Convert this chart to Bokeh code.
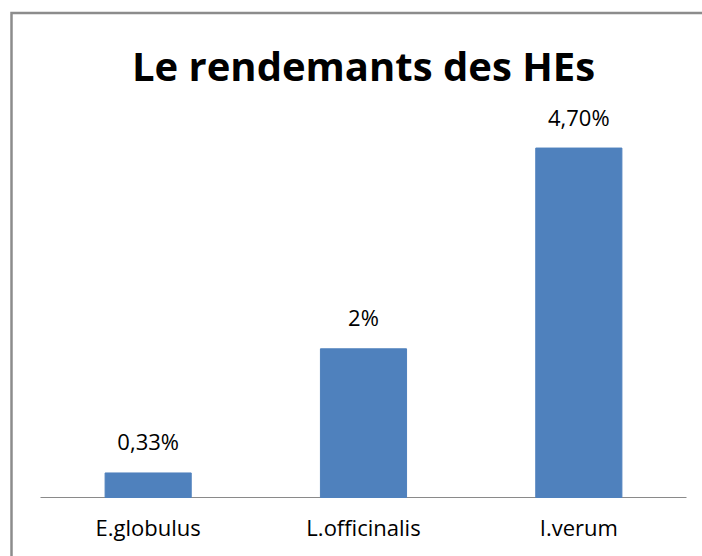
from bokeh.plotting import figure
from bokeh.models import Range1d, ColumnDataSource
from bokeh.core.properties import value
from bokeh.embed import file_html
from bokeh.resources import INLINE

# ---- data ----
categories = ["E.globulus", "L.officinalis", "I.verum"]
values = [0.33, 2.0, 4.7]
value_labels = ["0,33%", "2%", "4,70%"]
title_text = "Le rendemants des HEs"

# ---- layout (pixels in picture space) ----
W, H = 702, 556
PAGE_X0, PAGE_Y0 = 0, 0
CAT_LEFT_PX = 40.0          # left end of category axis
CAT_W_PX = 215.33           # width of one category slot
BASE_PX = 497.0             # baseline (value 0)
UNIT_PX = 74.35             # pixels per 1 %
TEXT_SHIFT = -12            # correction for rendered text baseline

def px_to_x(px):
    return (px - CAT_LEFT_PX) / CAT_W_PX

def py_to_y(py):
    return (BASE_PX - py) / UNIT_PX

x_start = px_to_x(PAGE_X0)
x_end = px_to_x(PAGE_X0 + W)
y_end = py_to_y(PAGE_Y0)
y_start = py_to_y(PAGE_Y0 + H)

p = figure(width=W, height=H, output_backend="svg", toolbar_location=None,
           x_range=Range1d(x_start, x_end), y_range=Range1d(y_start, y_end),
           x_axis_type=None, y_axis_type=None, min_border=0,
           min_border_left=0, min_border_right=0, min_border_top=0, min_border_bottom=0)
p.outline_line_color = None
p.background_fill_color = "white"
p.border_fill_color = "white"
p.grid.visible = False

# chart border (left and top visible; right/bottom lie outside the window)
p.quad(left=[px_to_x(11)], right=[x_end + 1], top=[py_to_y(12.5)], bottom=[y_start - 1],
       fill_color=None, line_color="#8c8c8c", line_width=2.5, line_join="miter")

xs = [i + 0.5 for i in range(len(categories))]
src = ColumnDataSource(dict(x=xs, top=values, lab=value_labels, cat=categories,
                            zero=[0] * len(categories)))

# category axis line
p.segment(x0=[0], y0=[0], x1=[len(categories)], y1=[0], line_color="#8a8a8a", line_width=1.2)

# bars
p.vbar(x="x", top="top", bottom=0, width=0.4, source=src,
       fill_color="#4F81BD", line_color="#4F81BD")

# value labels
p.text(x="x", y="top", text="lab", source=src, text_align="center",
       text_baseline="alphabetic", y_offset=-19.5 + TEXT_SHIFT, text_font=value("Open Sans"),
       text_font_size="22px", text_color="#000000")

# category labels
p.text(x="x", y="zero", text="cat", source=src, text_align="center",
       text_baseline="alphabetic", y_offset=41.5 + TEXT_SHIFT, text_font=value("Open Sans"),
       text_font_size="22px", text_color="#000000")

# title
p.text(x=[len(categories) / 2], y=[py_to_y(76.7)], text=[title_text], text_align="center",
       text_baseline="alphabetic", y_offset=TEXT_SHIFT, text_font=value("Open Sans"),
       text_font_style="bold", text_font_size="40px", text_color="#000000")

open("out.html", "w").write(file_html(p, INLINE))
